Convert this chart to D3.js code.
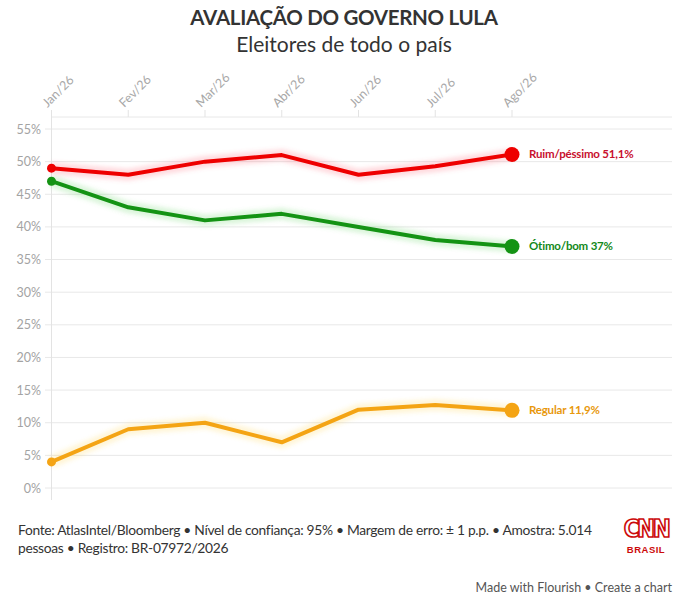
<!DOCTYPE html>
<html><head><meta charset="utf-8">
<script src="https://cdn.jsdelivr.net/npm/d3@7"></script>
<style>
body{margin:0;background:#fff;}
svg{display:block;font-family:Lato,"Source Sans Pro","Noto Sans",sans-serif;}
</style></head>
<body><svg id="c" width="687" height="608"></svg>
<script>
const months = ["Jan/26","Fev/26","Mar/26","Abr/26","Jun/26","Jul/26","Ago/26"];
const ruim = [49, 48, 50, 51, 48, 49.3, 51.1];
const otimo = [47, 43, 41, 42, 40, 38, 37];
const regular = [4, 9, 10, 7, 12, 12.7, 11.9];
const yTicks = [0,5,10,15,20,25,30,35,40,45,50,55];
const seriesNames = ["Ruim/péssimo","Ótimo/bom","Regular"];
const seriesColors = ["#ee0000","#149314","#f4a414"];
const glowColors = ["#ff5a6e","#5fd05f","#ffd24a"];
const labelColors = ["#c8102e","#13891a","#e8980c"];
const endLabels = ["Ruim/péssimo 51,1%","Ótimo/bom 37%","Regular 11,9%"];
const seriesValues = [ruim, otimo, regular];

const svg = d3.select("#c");
const x = d3.scalePoint().domain(months).range([51.5, 512]);
const y = d3.scaleLinear().domain([0,55]).range([488,129]);
const plotRight = 672, plotTop = y(55) - 12;

// title
svg.append("text").attr("x",344).attr("y",25).attr("text-anchor","middle")
  .attr("font-size",20.5).attr("font-weight",700).attr("fill","#333").attr("letter-spacing",-0.3)
  .text("AVALIAÇÃO DO GOVERNO LULA");
svg.append("text").attr("x",344).attr("y",52).attr("text-anchor","middle")
  .attr("font-size",21).attr("fill","#333")
  .text("Eleitores de todo o país");

// grid
const g = svg.append("g");
g.selectAll("line.grid").data(yTicks).join("line")
  .attr("x1",45).attr("x2",plotRight).attr("y1",d=>y(d)).attr("y2",d=>y(d))
  .attr("stroke","#e8e8e8").attr("stroke-width",1);
g.append("line").attr("x1",51.5).attr("x2",plotRight).attr("y1",plotTop).attr("y2",plotTop)
  .attr("stroke","#e8e8e8");
g.append("line").attr("x1",51.5).attr("x2",51.5).attr("y1",plotTop-7).attr("y2",500)
  .attr("stroke","#e3e3e3");

// y axis labels
g.selectAll("text.yl").data(yTicks).join("text")
  .attr("x",41).attr("y",d=>y(d)+4.5).attr("text-anchor","end")
  .attr("font-size",12.5).attr("fill","#a3a3a3").text(d=>d+"%");

// x axis
g.selectAll("line.xt").data(months).join("line")
  .attr("x1",d=>x(d)).attr("x2",d=>x(d)).attr("y1",plotTop-7).attr("y2",plotTop)
  .attr("stroke","#e3e3e3");
g.selectAll("text.xl").data(months).join("text")
  .attr("transform",d=>`translate(${x(d)-4},${plotTop-9}) rotate(-45)`)
  .attr("font-size",12.5).attr("fill","#a8a8a8").text(d=>d);

// glow filter
const defs = svg.append("defs");
const f = defs.append("filter").attr("id","glow").attr("x","-10%").attr("y","-50%").attr("width","120%").attr("height","200%");
f.append("feGaussianBlur").attr("stdDeviation",2);

const line = d3.line().x((d,i)=>x(months[i])).y(d=>y(d));
seriesValues.forEach((vals,k)=>{
  const c = seriesColors[k];
  svg.append("path").attr("d",line(vals)).attr("fill","none")
    .attr("stroke",glowColors[k]).attr("stroke-opacity",0.22).attr("stroke-width",12)
    .attr("stroke-linejoin","round").attr("filter","url(#glow)");
  svg.append("path").attr("d",line(vals)).attr("fill","none")
    .attr("stroke",c).attr("stroke-width",4).attr("stroke-linejoin","round");
  svg.append("circle").attr("cx",x(months[0])).attr("cy",y(vals[0])).attr("r",4.5).attr("fill",c);
  const last = vals.length-1;
  svg.append("circle").attr("cx",x(months[last])).attr("cy",y(vals[last])).attr("r",7.5).attr("fill",c);
  svg.append("text").attr("x",x(months[last])+17).attr("y",y(vals[last])+4)
    .attr("font-size",11.5).attr("font-weight",700).attr("letter-spacing",-0.2)
    .attr("fill",labelColors[k]).text(endLabels[k]);
});

// footer
svg.append("text").attr("x",18).attr("y",535).attr("font-size",13.8).attr("fill","#333").attr("letter-spacing",-0.3)
  .text("Fonte: AtlasIntel/Bloomberg • Nível de confiança: 95% • Margem de erro: ± 1 p.p. • Amostra: 5.014");
svg.append("text").attr("x",18).attr("y",553).attr("font-size",13.8).attr("fill","#333").attr("letter-spacing",-0.3)
  .text("pessoas • Registro: BR-07972/2026");

// logo
svg.append("text").attr("x",646).attr("y",537).attr("text-anchor","middle")
  .attr("font-size",24).attr("font-weight",900).attr("letter-spacing",-2.5)
  .attr("fill","none").attr("stroke","#cc0a0a").attr("stroke-width",1.6)
  .attr("font-family","'DejaVu Sans Condensed','Liberation Sans Narrow',sans-serif").text("CNN");
svg.append("text").attr("x",646).attr("y",553).attr("text-anchor","middle")
  .attr("font-size",9.5).attr("font-weight",700).attr("fill","#cc0a0a")
  .attr("font-family","'Liberation Sans',sans-serif").attr("letter-spacing",0.5).text("BRASIL");

svg.append("text").attr("x",672).attr("y",592).attr("text-anchor","end")
  .attr("font-size",12.5).attr("fill","#555").text("Made with Flourish • Create a chart");
</script></body></html>
